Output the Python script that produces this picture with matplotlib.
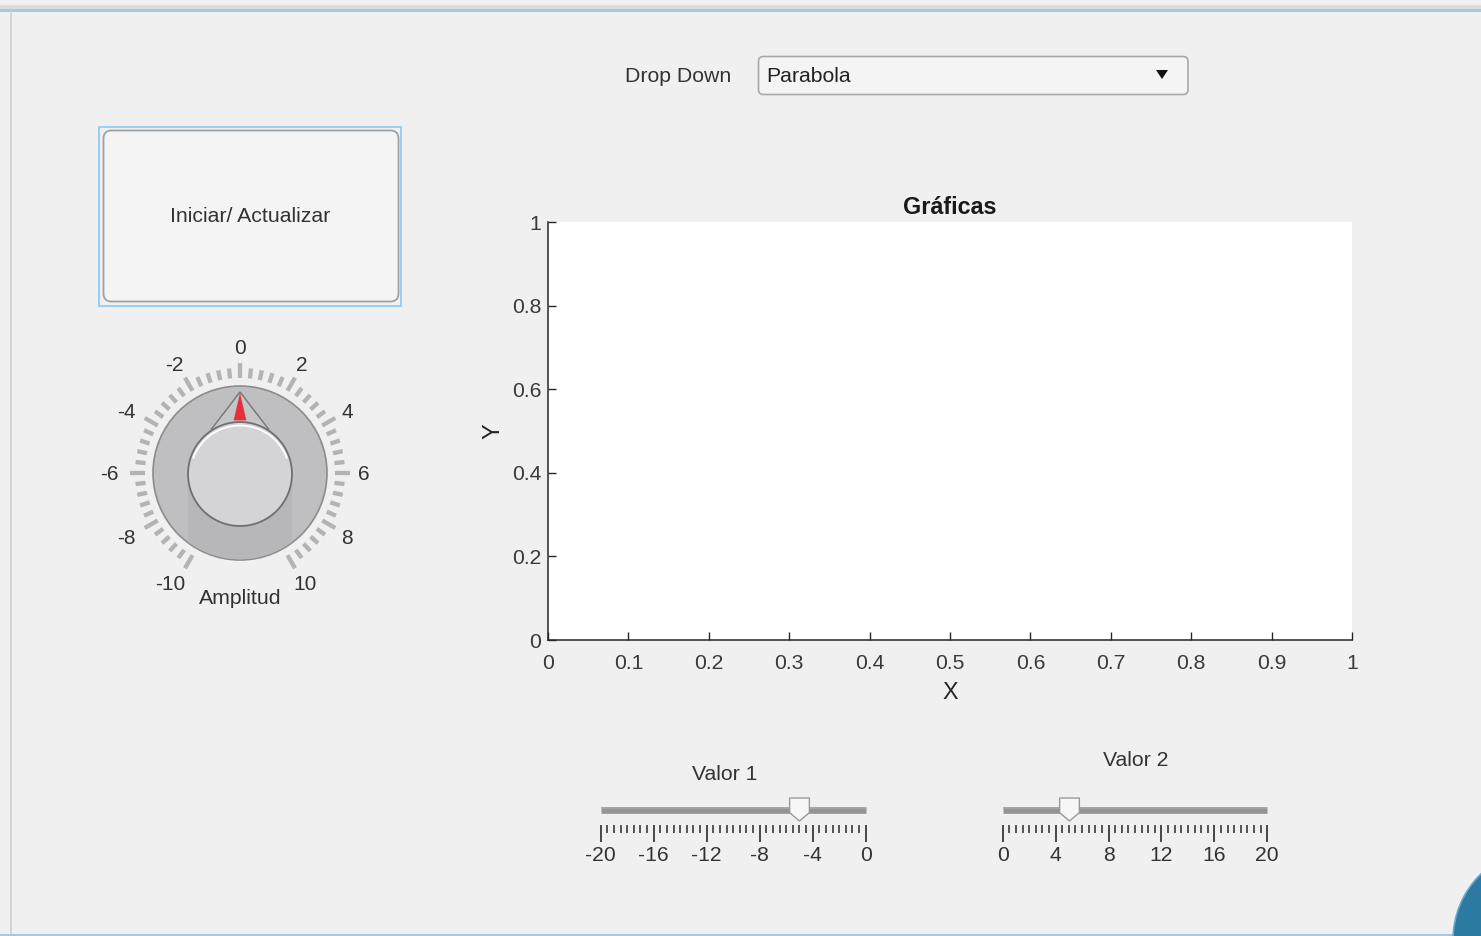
import numpy as np
import matplotlib
matplotlib.use("Agg")
import matplotlib.pyplot as plt
from matplotlib.patches import Rectangle, FancyBboxPatch, Circle, Polygon, Arc
from matplotlib.path import Path
from matplotlib.ticker import MultipleLocator

plt.rcParams['font.family'] = ['Liberation Sans', 'DejaVu Sans']
plt.rcParams['axes.unicode_minus'] = False

# ---------------- data ----------------
plot_title = "Gráficas"
x_label = "X"
y_label = "Y"
x_ticks = [0, 0.1, 0.2, 0.3, 0.4, 0.5, 0.6, 0.7, 0.8, 0.9, 1]
x_ticklabels = ["0", "0.1", "0.2", "0.3", "0.4", "0.5", "0.6", "0.7", "0.8", "0.9", "1"]
y_ticks = [0, 0.2, 0.4, 0.6, 0.8, 1]
y_ticklabels = ["0", "0.2", "0.4", "0.6", "0.8", "1"]

dropdown_label = "Drop Down"
dropdown_value = "Parabola"
button_text = "Iniciar/ Actualizar"

knob_label = "Amplitud"
knob_major = [-10, -8, -6, -4, -2, 0, 2, 4, 6, 8, 10]
knob_minor_step = 0.4
knob_value = 0

slider1_label = "Valor 1"
slider1_ticks = [-20, -16, -12, -8, -4, 0]
slider1_value = -5
slider2_label = "Valor 2"
slider2_ticks = [0, 4, 8, 12, 16, 20]
slider2_value = 5
slider_minor_step = 0.5

W, H = 1481, 936
BG = '#f0f0f0'
TXT = '#333333'
AX = '#262626'
UIFS = 15.3
TICKFS = 15.2

fig = plt.figure(figsize=(W / 100, H / 100), dpi=100)
fig.patch.set_facecolor(BG)

# overlay in pixel coordinates
ui = fig.add_axes([0, 0, 1, 1], zorder=0)
ui.set_xlim(0, W)
ui.set_ylim(H, 0)
ui.axis('off')

# window frame
ui.add_patch(Rectangle((0, 5), W, 4, facecolor='#dadada', edgecolor='none'))
ui.add_patch(Rectangle((0, 9), W, 2.5, facecolor='#a6c8e6', edgecolor='none'))
ui.add_patch(Rectangle((10, 11), 2, H - 11, facecolor='#d4d4d4', edgecolor='none'))
ui.add_patch(Rectangle((0, 933.5), W, 2.5, facecolor='#a6c8e6', edgecolor='none'))
ui.add_patch(Circle((1545, 940), 92, facecolor='#2a7aa1', edgecolor='#6aa7cc', lw=1.2))

# button
ui.add_patch(Rectangle((98.5, 126.5), 302.5, 179, facecolor='none', edgecolor='#92cbf5', lw=1.3))
ui.add_patch(FancyBboxPatch((103.5, 130.5), 295, 171,
                            boxstyle='round,pad=0,rounding_size=8',
                            facecolor='#f4f4f4', edgecolor='#a2a2a2', lw=1.3))
ui.text(250, 216, button_text, ha='center', va='center', fontsize=UIFS, color=TXT)

# drop down
ui.text(731, 77, dropdown_label, ha='right', va='center', fontsize=UIFS, color=TXT)
ui.add_patch(FancyBboxPatch((758.5, 56.5), 429.5, 38,
                            boxstyle='round,pad=0,rounding_size=5',
                            facecolor='#f4f4f4', edgecolor='#a8a8a8', lw=1.2))
ui.text(766, 77, dropdown_value, ha='left', va='center', fontsize=UIFS, color='#222222')
ui.add_patch(Polygon([(1156, 70), (1168, 70), (1162, 79)], closed=True,
                     facecolor='#111111', edgecolor='none'))

# ---------------- knob ----------------
kcx, kcy = 240, 473


def kang(v):
    return np.deg2rad(90 - v * 15.0)


ui.add_patch(Circle((kcx, kcy), 87, facecolor='#bfbfc1', edgecolor='#8c8c8c', lw=1.2, zorder=2))
shadow = Rectangle((kcx - 52, kcy + 2), 104, 100, facecolor='#b7b7b9', edgecolor='none', zorder=2)
ui.add_patch(shadow)
shadow.set_clip_path(Circle((kcx, kcy), 86.4, transform=ui.transData))

ang_v = kang(knob_value)
apex = (kcx + 81 * np.cos(ang_v), kcy - 81 * np.sin(ang_v))
p1 = (kcx + 53 * np.cos(ang_v + np.deg2rad(33)), kcy + 1 - 53 * np.sin(ang_v + np.deg2rad(33)))
p2 = (kcx + 53 * np.cos(ang_v - np.deg2rad(33)), kcy + 1 - 53 * np.sin(ang_v - np.deg2rad(33)))
ui.add_patch(Polygon([apex, p1, p2], closed=True, facecolor='#c6c6c8',
                     edgecolor='#7a7a7a', lw=1.1, zorder=3))
ui.add_patch(Circle((kcx, kcy + 1), 52, facecolor='#d4d4d6', edgecolor='#6f6f6f', lw=1.3, zorder=4))
ui.add_patch(Arc((kcx, kcy + 2.5), 100, 100, theta1=200, theta2=340,
                 color='white', lw=1.3, zorder=5))
# red needle
tip = (kcx + 80 * np.cos(ang_v), kcy - 80 * np.sin(ang_v))
b1 = (kcx + 53 * np.cos(ang_v + 0.12), kcy - 53 * np.sin(ang_v + 0.12))
b2 = (kcx + 53 * np.cos(ang_v - 0.12), kcy - 53 * np.sin(ang_v - 0.12))
ui.add_patch(Polygon([tip, b1, b2], closed=True, facecolor='#e2323c', edgecolor='none', zorder=6))

minor_vals = np.arange(knob_major[0], knob_major[-1] + 1e-9, knob_minor_step)
for v in minor_vals:
    a = kang(v)
    is_major = abs(v / 2 - round(v / 2)) < 1e-6
    r0, r1 = (95, 110) if is_major else (95, 105)
    ui.plot([kcx + r0 * np.cos(a), kcx + r1 * np.cos(a)],
            [kcy - r0 * np.sin(a), kcy - r1 * np.sin(a)],
            color='#b3b3b3', lw=3.1, solid_capstyle='butt', zorder=2)
for v in knob_major:
    a = kang(v)
    lab = str(v)
    rx = 116 + 7.5 * len(lab)
    ui.text(kcx + rx * np.cos(a), kcy + 2 - 126 * np.sin(a), lab,
            ha='center', va='center', fontsize=UIFS - 0.3, color=TXT)
ui.text(240, 599, knob_label, ha='center', va='center', fontsize=UIFS, color=TXT)

# ---------------- main axes ----------------
L, R, T, B = 548, 1352, 222, 640
ax = fig.add_axes([L / W, (H - B) / H, (R - L) / W, (B - T) / H], zorder=1)
ax.set_facecolor('white')
ax.set_xlim(0, 1)
ax.set_ylim(0, 1)
for s in ['top', 'right']:
    ax.spines[s].set_visible(False)
for s in ['left', 'bottom']:
    ax.spines[s].set_color(AX)
    ax.spines[s].set_linewidth(1.1)
ax.set_xticks(x_ticks)
ax.set_xticklabels(x_ticklabels)
ax.set_yticks(y_ticks)
ax.set_yticklabels(y_ticklabels)
ax.tick_params(direction='in', length=5.5, width=1.0, color=AX, labelsize=TICKFS,
               labelcolor='#3a3a3a')
ax.tick_params(axis='x', pad=10)
ax.tick_params(axis='y', pad=5)
ax.set_title(plot_title, fontsize=16.8, fontweight='bold', color='#1a1a1a', pad=6)
ax.set_xlabel(x_label, fontsize=16.8, color='#262626', labelpad=6)
ax.set_ylabel(y_label, fontsize=16.8, color='#262626', labelpad=5)


# ---------------- sliders ----------------
def make_slider(x0, x1, ticks, value, label, label_x, label_y):
    top, bot = 795, 825
    sa = fig.add_axes([x0 / W, (H - bot) / H, (x1 - x0) / W, (bot - top) / H], zorder=2)
    sa.patch.set_alpha(0)
    for s in sa.spines.values():
        s.set_visible(False)
    sa.set_xlim(ticks[0], ticks[-1])
    sa.set_ylim(0, 1)
    sa.set_yticks([])
    sa.set_xticks(ticks)
    sa.set_xticklabels([str(t) for t in ticks])
    sa.xaxis.set_minor_locator(MultipleLocator(slider_minor_step))
    sa.tick_params(axis='x', which='major', direction='out', length=12, width=1.2,
                   color='#2a2a2a', labelsize=TICKFS, labelcolor=TXT, pad=3)
    sa.tick_params(axis='x', which='minor', direction='out', length=5.5, width=1.1,
                   color='#2a2a2a')
    # track
    sa.plot([ticks[0], ticks[-1]], [0.5, 0.5], color='#949494', lw=4.8,
            solid_capstyle='butt', clip_on=False)
    sa.plot([ticks[0], ticks[-1]], [0.56, 0.56], color='#a9a9a9', lw=1.2,
            solid_capstyle='butt', clip_on=False)
    # thumb (pentagon pointing down)
    verts = [(-0.43, 0.5), (0.43, 0.5), (0.43, -0.14), (0.0, -0.5), (-0.43, -0.14), (-0.43, 0.5)]
    codes = [Path.MOVETO] + [Path.LINETO] * 4 + [Path.CLOSEPOLY]
    thumb = Path(verts, codes)
    sa.plot([value], [0.53], marker=thumb, markersize=16.5, markerfacecolor='#f7f7f7',
            markeredgecolor='#9a9a9a', markeredgewidth=1.0, clip_on=False, zorder=5)
    ui.text(label_x, label_y, label, ha='center', va='center', fontsize=UIFS, color=TXT)
    return sa


make_slider(600.7, 865.7, slider1_ticks, slider1_value, slider1_label, 725, 774)
make_slider(1002.7, 1267.3, slider2_ticks, slider2_value, slider2_label, 1136, 760)

fig.savefig('out.png', dpi=100, facecolor=BG)
